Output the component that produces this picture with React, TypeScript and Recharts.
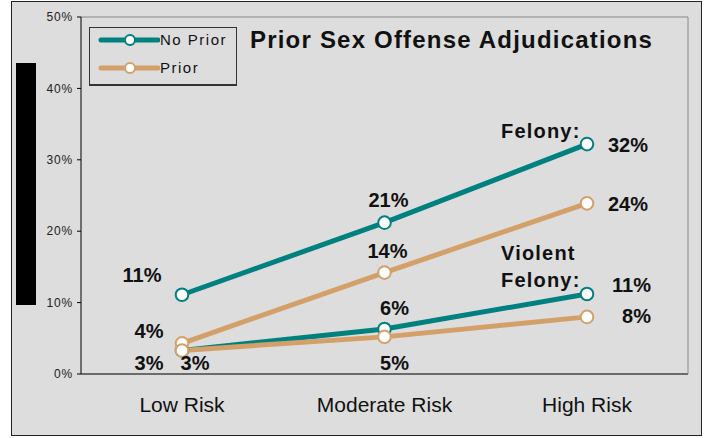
import { LineChart, Line, XAxis, YAxis, Legend, LabelList } from 'recharts';

const categories = ['Low Risk', 'Moderate Risk', 'High Risk'];
const noPriorFelony = [11.1, 21.2, 32.2];
const priorFelony = [4.3, 14.2, 23.9];
const noPriorViolent = [3.3, 6.3, 11.2];
const priorViolent = [3.3, 5.2, 8.0];
const yTicks = [0, 10, 20, 30, 40, 50];

const data = categories.map((cat, i) => ({
  cat,
  nfel: noPriorFelony[i],
  pfel: priorFelony[i],
  nviol: noPriorViolent[i],
  pviol: priorViolent[i],
}));

const TEAL = '#00807f';
const TAN = '#d4a06a';
const FONT = 'Arial, "Liberation Sans", sans-serif';

type Off = { dx: number; dy: number; anchor: 'start' | 'middle' | 'end' };

// label placement around each point, per series
const offsets: Record<string, Off[]> = {
  nfel: [
    { dx: -40, dy: -13, anchor: 'middle' },
    { dx: 4, dy: -16, anchor: 'middle' },
    { dx: 61, dy: 8, anchor: 'end' },
  ],
  pfel: [
    { dx: -33, dy: -5, anchor: 'middle' },
    { dx: 3, dy: -15, anchor: 'middle' },
    { dx: 61, dy: 8, anchor: 'end' },
  ],
  nviol: [
    { dx: -33, dy: 20, anchor: 'middle' },
    { dx: 10, dy: -14, anchor: 'middle' },
    { dx: 64, dy: -2, anchor: 'end' },
  ],
  pviol: [
    { dx: 13, dy: 20, anchor: 'middle' },
    { dx: 10, dy: 33, anchor: 'middle' },
    { dx: 64, dy: 6, anchor: 'end' },
  ],
};

const noteStyle = { fontFamily: FONT, fontSize: 20, fontWeight: 700, letterSpacing: 1.2, fill: '#111' };

function makeLabel(key: string) {
  return (props: any) => {
    const { x, y, value, index } = props;
    const o = offsets[key][index];
    const isLast = index === categories.length - 1;
    return (
      <g>
        <text
          x={x + o.dx}
          y={y + o.dy}
          textAnchor={o.anchor}
          style={{ fontFamily: FONT, fontSize: 20, fontWeight: 700 }}
          fill="#111"
        >
          {`${Math.round(Number(value))}%`}
        </text>
        {key === 'nfel' && isLast && (
          <text x={x - 86} y={y - 6} style={noteStyle}>Felony:</text>
        )}
        {key === 'nviol' && isLast && (
          <>
            <text x={x - 86} y={y - 34} style={noteStyle}>Violent</text>
            <text x={x - 86} y={y - 7} style={noteStyle}>Felony:</text>
          </>
        )}
      </g>
    );
  };
}

function LegendBox(props: any) {
  const items = (props.payload || []).filter((p: any) => p.type !== 'none');
  return (
    <div
      style={{
        width: 146,
        height: 56,
        border: '1px solid #333',
        boxShadow: '0 1px 0 #333',
        position: 'relative',
        fontFamily: FONT,
      }}
    >
      {items.map((it: any, i: number) => (
        <div key={it.value} style={{ position: 'absolute', left: 0, top: 2 + i * 28, height: 20, width: 146 }}>
          <svg width={70} height={20} style={{ position: 'absolute', left: 0, top: 0 }}>
            <line x1={11} y1={10} x2={68} y2={10} stroke={it.color} strokeWidth={5} strokeLinecap="round" />
            <circle cx={40} cy={10} r={5} fill="#fff" stroke={it.color} strokeWidth={2} />
          </svg>
          <span
            style={{
              position: 'absolute',
              left: 70,
              top: 0,
              fontSize: 15,
              lineHeight: '20px',
              letterSpacing: 1.5,
              color: '#111',
            }}
          >
            {it.value}
          </span>
        </div>
      ))}
    </div>
  );
}

export default function App() {
  return (
    <div style={{ position: 'absolute', left: 0, top: 0, width: 708, height: 438, background: '#fff' }}>
      <div
        style={{
          position: 'absolute',
          left: 11,
          top: 1,
          width: 689,
          height: 433,
          border: '1.5px solid #222',
          background: '#dddddd',
        }}
      />
      <div style={{ position: 'absolute', left: 16, top: 63, width: 20, height: 242, background: '#000' }} />
      <div
        style={{
          position: 'absolute',
          left: 250,
          top: 28,
          fontFamily: FONT,
          fontSize: 24,
          lineHeight: '24px',
          fontWeight: 700,
          letterSpacing: 1.2,
          color: '#111',
          whiteSpace: 'nowrap',
        }}
      >
        Prior Sex Offense Adjudications
      </div>
      <div style={{ position: 'absolute', left: 0, top: 0 }}>
        <LineChart width={708} height={438} data={data} margin={{ top: 16, right: 19, bottom: 24, left: 21 }}>
          <XAxis
            dataKey="cat"
            padding={{ left: 101, right: 101 }}
            height={40}
            tickSize={0}
            tickMargin={23}
            tickLine={false}
            axisLine={{ stroke: '#444', strokeWidth: 1.5 }}
            tick={{ fontFamily: FONT, fontSize: 21, fill: '#111' }}
          />
          <XAxis
            xAxisId="top"
            dataKey="cat"
            orientation="top"
            height={1}
            tick={false}
            tickLine={false}
            axisLine={{ stroke: '#888' }}
          />
          <YAxis
            domain={[0, 50]}
            ticks={yTicks}
            width={60}
            tickSize={4}
            tickMargin={4}
            tickFormatter={(v: number) => `${v}%`}
            axisLine={{ stroke: '#000' }}
            tickLine={{ stroke: '#000' }}
            tick={{ fontFamily: FONT, fontSize: 12, fill: '#222', letterSpacing: 0.8 }}
          />
          <YAxis
            yAxisId="r"
            orientation="right"
            domain={[0, 50]}
            width={1}
            tick={false}
            tickLine={false}
            axisLine={{ stroke: '#888' }}
          />
          <Legend
            layout="vertical"
            align="center"
            verticalAlign="middle"
            content={<LegendBox />}
            wrapperStyle={{ left: 89, top: 27, width: 148, height: 58 }}
          />
          <Line
            dataKey="nfel"
            name="No Prior"
            stroke={TEAL}
            strokeWidth={5}
            dot={{ r: 6.3, fill: '#fff', stroke: TEAL, strokeWidth: 2 }}
            isAnimationActive={false}
          >
            <LabelList dataKey="nfel" content={makeLabel('nfel')} />
          </Line>
          <Line
            dataKey="nviol"
            name="No Prior (violent)"
            legendType="none"
            stroke={TEAL}
            strokeWidth={5}
            dot={{ r: 6.3, fill: '#fff', stroke: TEAL, strokeWidth: 2 }}
            isAnimationActive={false}
          >
            <LabelList dataKey="nviol" content={makeLabel('nviol')} />
          </Line>
          <Line
            dataKey="pfel"
            name="Prior"
            stroke={TAN}
            strokeWidth={5}
            dot={{ r: 6.3, fill: '#fff', stroke: TAN, strokeWidth: 2 }}
            isAnimationActive={false}
          >
            <LabelList dataKey="pfel" content={makeLabel('pfel')} />
          </Line>
          <Line
            dataKey="pviol"
            name="Prior (violent)"
            legendType="none"
            stroke={TAN}
            strokeWidth={5}
            dot={{ r: 6.3, fill: '#fff', stroke: TAN, strokeWidth: 2 }}
            isAnimationActive={false}
          >
            <LabelList dataKey="pviol" content={makeLabel('pviol')} />
          </Line>
        </LineChart>
      </div>
    </div>
  );
}
